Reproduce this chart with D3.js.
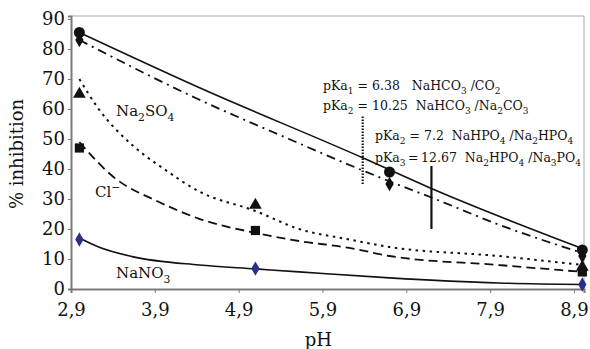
<!DOCTYPE html>
<html>
<head>
<meta charset="utf-8">
<script src="https://cdn.jsdelivr.net/npm/d3@7"></script>
<style>
  body { margin: 0; background: #fff; }
  text { font-family: "DejaVu Serif", serif; fill: #111; }
</style>
</head>
<body>
<div class="canvas"></div>
<script>
// measured points (pH, % inhibition)
const phosphatePts = [[3.0, 85.5], [6.7, 39], [9.0, 13]];
const carbonatePts = [[3.0, 83], [6.7, 35], [9.0, 11]];
const sulfatePts   = [[3.0, 65], [5.1, 28], [9.0, 7.3]];
const chloridePts  = [[3.0, 47], [5.1, 19.5], [9.0, 5.7]];
const nitratePts   = [[3.0, 16.5], [5.1, 6.8], [9.0, 1.5]];

// trend lines
const phosphateTrend = [[3.0, 85.5], [4.4, 67.5], [6.4, 43.5], [7.2, 33.5], [9.0, 13.5]];
const carbonateTrend = [[3.0, 83], [4.4, 63.5], [5.5, 50], [6.6, 37], [7.2, 30.5], [8.0, 21.5], [9.0, 12]];
const sulfateTrend   = [[3.0, 70], [3.23, 60], [3.63, 48], [4.01, 40], [4.43, 32.5], [5.1, 26], [5.62, 20], [6.22, 16.5], [6.7, 14], [8.0, 11], [9.0, 8]];
const chlorideTrend  = [[3.0, 49], [3.4, 37.5], [3.95, 29], [4.43, 23.4], [5.1, 18.7], [5.62, 16], [6.22, 13.7], [6.7, 11], [8.0, 8], [9.0, 5.7]];
const nitrateTrend   = [[3.0, 17], [3.23, 14], [3.63, 10.8], [4.43, 8], [5.1, 6.7], [5.62, 5.7], [6.7, 3.7], [8.0, 2], [9.0, 1.5]];

const xTicks = [2.9, 3.9, 4.9, 5.9, 6.9, 7.9, 8.9];
const yTicks = [0, 10, 20, 30, 40, 50, 60, 70, 80, 90];

// pKa markers: pH, from, to
const pKa1Line = [6.38, 35, 58];
const pKa2Line = [7.2, 20, 41];

const notes = [
  "pKa_1 = 6.38   NaHCO_3 /CO_2",
  "pKa_2 = 10.25  NaHCO_3 /Na_2CO_3",
  "pKa_2 = 7.2  NaHPO_4 /Na_2HPO_4",
  "pKa_3\u2009=\u200912.67  Na_2HPO_4 /Na_3PO_4"
];
const seriesNames = ["Na_2SO_4", "Cl^−", "NaNO_3"];

const W = 590, H = 349;
const svg = d3.select('.canvas').append('svg')
  .attr('width', W).attr('height', H);

const x = d3.scaleLinear().domain([2.9, 9.02]).range([71, 584]);
const y = d3.scaleLinear().domain([0, 91]).range([289, 16]);

// frame (top/right)
svg.append('path')
  .attr('d', `M${x(2.9)},${y(91)}H${x(9.02)}V${y(0)}`)
  .attr('fill', 'none').attr('stroke', '#a8a8a8').attr('stroke-width', 1);

// axes
const xAxis = svg.append('g').attr('transform', `translate(0,${y(0)})`)
  .call(d3.axisBottom(x).tickValues(xTicks).tickSize(4).tickPadding(10)
        .tickFormat(d => d3.format('.1f')(d).replace('.', ',')));
const yAxis = svg.append('g').attr('transform', `translate(${x(2.9)},0)`)
  .call(d3.axisLeft(y).tickValues(yTicks).tickSize(3).tickPadding(3));
[xAxis, yAxis].forEach(a => {
  a.select('.domain').attr('stroke', '#7a7a7a').attr('stroke-width', 2);
  a.selectAll('.tick line').attr('stroke', '#7a7a7a');
  a.selectAll('.tick text').style('font-size', '18px').attr('fill', '#111');
});

// axis titles
svg.append('text').attr('x', x(5.85)).attr('y', 346)
  .attr('text-anchor', 'middle').style('font-size', '18px').text('pH');
svg.append('text').attr('transform', `translate(23,${y(45)}) rotate(-90)`)
  .attr('text-anchor', 'middle').style('font-size', '18px').text('% inhibition');

// trend lines
const line = d3.line().x(d => x(d[0])).y(d => y(d[1])).curve(d3.curveMonotoneX);
const trends = [
  { data: phosphateTrend, dash: null, w: 1.6 },
  { data: carbonateTrend, dash: '9,5,2,5', w: 1.8 },
  { data: sulfateTrend, dash: '2.5,4.5', w: 2 },
  { data: chlorideTrend, dash: '9,5', w: 1.8 },
  { data: nitrateTrend, dash: null, w: 1.6 }
];
svg.selectAll('.trend').data(trends).enter()
  .append('path').attr('class', 'trend')
  .attr('d', d => line(d.data))
  .attr('fill', 'none').attr('stroke', '#111')
  .attr('stroke-width', d => d.w)
  .attr('stroke-dasharray', d => d.dash);

// pKa vertical markers
svg.append('line')
  .attr('x1', x(pKa1Line[0])).attr('x2', x(pKa1Line[0]))
  .attr('y1', y(pKa1Line[1])).attr('y2', y(pKa1Line[2]))
  .attr('stroke', '#111').attr('stroke-width', 2.2).attr('stroke-dasharray', '1.5,1.5');
svg.append('line')
  .attr('x1', x(pKa2Line[0])).attr('x2', x(pKa2Line[0]))
  .attr('y1', y(pKa2Line[1])).attr('y2', y(pKa2Line[2]))
  .attr('stroke', '#111').attr('stroke-width', 2.2);

// markers
const sym = (type, size) => d3.symbol().type(type).size(size)();
const markerSets = [
  { data: phosphatePts, type: d3.symbolCircle, size: 95, fill: '#111' },
  { data: carbonatePts, type: d3.symbolDiamond, size: 60, fill: '#111' },
  { data: sulfatePts, type: d3.symbolTriangle, size: 70, fill: '#111' },
  { data: chloridePts, type: d3.symbolSquare, size: 85, fill: '#111' },
  { data: nitratePts, type: d3.symbolDiamond, size: 60, fill: '#2b2f8c' }
];
markerSets.forEach(m => {
  svg.selectAll(null).data(m.data).enter()
    .append('path')
    .attr('d', sym(m.type, m.size))
    .attr('transform', d => `translate(${x(d[0])},${y(d[1])})`)
    .attr('fill', m.fill);
});

// rich text with _sub and ^sup (one char each)
function rich(sel, str, size) {
  const t = sel.style('font-size', size + 'px');
  let shift = 0;
  for (let i = 0; i < str.length; i++) {
    let c = str[i], mode = 0;
    if ((c === '_' || c === '^') && i + 1 < str.length) { mode = c === '_' ? 1 : -1; c = str[++i]; }
    const want = mode === 1 ? size * 0.3 : mode === -1 ? -size * 0.4 : 0;
    const ts = t.append('tspan').attr('dy', want - shift).text(c);
    if (mode) ts.style('font-size', (size * 0.72) + 'px');
    shift = want;
  }
}

const notePos = [[323, 90], [323, 110], [375, 140], [375, 162]];
notes.forEach((n, i) => {
  svg.append('text').attr('x', notePos[i][0]).attr('y', notePos[i][1])
    .style('white-space', 'pre').call(s => rich(s, n, 12.5));
});

const labelPos = [[116, 116], [95, 197], [116, 278]];
seriesNames.forEach((n, i) => {
  svg.append('text').attr('x', labelPos[i][0]).attr('y', labelPos[i][1])
    .call(s => rich(s, n, 15));
});
</script>
</body>
</html>
